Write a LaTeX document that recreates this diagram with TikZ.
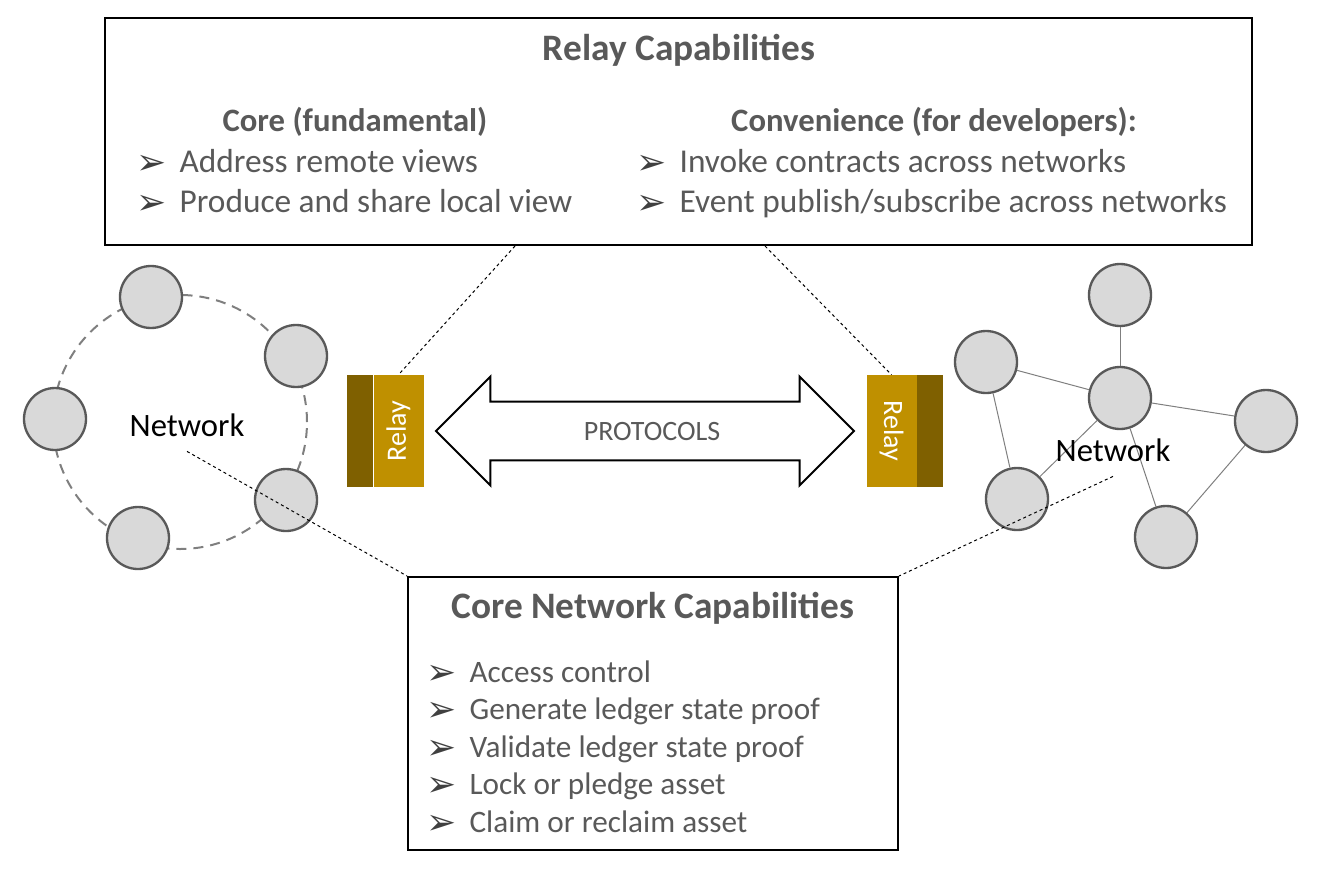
\documentclass[tikz,border=0pt]{standalone}
\usepackage{fontspec}
\setmainfont{Carlito}
\newfontfamily\symfont{DejaVu Sans}
\usepackage{xcolor}
\definecolor{RelayGold}{HTML}{BF9000}
\definecolor{RelayDark}{HTML}{7F6000}
\definecolor{TextGray}{HTML}{595959}
\definecolor{BulletGray}{HTML}{404040}
\definecolor{PeerFill}{HTML}{D9D9D9}
\definecolor{PeerLine}{HTML}{595959}
\definecolor{RingGray}{HTML}{7F7F7F}
\usetikzlibrary{arrows.meta,positioning,shapes.arrows,calc}
\newcommand{\bul}{\makebox[32.5pt][l]{\raisebox{-1.5pt}{\symfont\fontsize{27}{27}\selectfont\textcolor{BulletGray}{➢}}}}

\begin{document}
\begin{tikzpicture}[x=0.75pt, y=-0.75pt, every node/.style={text=TextGray},
    capbox/.style={draw=black, line width=1.5pt, inner sep=0pt},
    title/.style={font=\fontsize{28}{34}\selectfont\bfseries},
    subtitle/.style={font=\fontsize{24.5}{30}\selectfont\bfseries},
    item/.style={font=\fontsize{25}{30}\selectfont, anchor=base west, inner sep=0pt},
    smallitem/.style={font=\fontsize{23.4}{28}\selectfont, anchor=base west, inner sep=0pt},
    relaypart/.style={inner sep=0pt, minimum height=84pt},
    relaytext/.style={text=white, font=\fontsize{21}{25}\selectfont},
    peer/.style={circle, draw=PeerLine, line width=1.75pt, fill=PeerFill, minimum size=46.5pt, inner sep=0pt},
    netlabel/.style={text=black, font=\fontsize{24.5}{30}\selectfont, inner xsep=2pt, inner ysep=11pt},
    peerlink/.style={RingGray, line width=0.75pt},
    zoomline/.style={black, line width=0.75pt, dash pattern=on 2.25pt off 2.25pt}]
    \useasboundingbox (0,0) rectangle (1324,871);

    % relay capabilities
    \node[capbox, minimum width=860.25pt, minimum height=170.25pt] (relaycap) at (678.5,131.5) {};
    \node[title] (relaytitle) at (679,50) {Relay Capabilities};
    \node[subtitle] (coretitle) at (355,122) {Core (fundamental)};
    \node[subtitle] (convtitle) at (934,122) {Convenience (for developers):};
    \node[item] (core1) at (136,172) {\bul Address remote views};
    \node[item] (core2) at (136,212) {\bul Produce and share local view};
    \node[item] (conv1) at (636,172) {\bul Invoke contracts across networks};
    \node[item] (conv2) at (636,212) {\bul Event publish/subscribe across networks};

    % core network capabilities
    \node[capbox, minimum width=367.5pt, minimum height=204.75pt] (netcap) at (653,713.5) {};
    \node[title] (nettitle) at (653,608) {Core Network Capabilities};
    \foreach \txt [count=\i] in {Access control, Generate ledger state proof, Validate ledger state proof, Lock or pledge asset, Claim or reclaim asset}
        \node[smallitem] (netitem\i) at (426,644.5+37.5*\i) {\bul\txt};

    % relays
    \node[relaypart, fill=RelayGold, minimum width=37.5pt] (relayL) at (398.5,431) {};
    \node[relaypart, fill=RelayDark, minimum width=19.5pt, left=0pt of relayL] (relayLback) {};
    \node[relaytext, rotate=90] (relayLtext) at (relayL) {Relay};
    \node[relaypart, fill=RelayGold, minimum width=37.5pt] (relayR) at (891.5,431) {};
    \node[relaypart, fill=RelayDark, minimum width=19.5pt, right=0pt of relayR] (relayRback) {};
    \node[relaytext, rotate=-90] (relayRtext) at (relayR) {Relay};

    \node[double arrow, draw=black, line width=1.5pt, fill=white, double arrow head extend=18.75pt, minimum height=313.5pt, text height=13.5pt, text depth=0pt, inner ysep=14.6pt, font=\fontsize{21}{25}\selectfont] (protocols) at (645,431) {\hspace*{10.5pt}PROTOCOLS};

    % left network
    \draw[RingGray, line width=1.5pt, dash pattern=on 7.5pt off 5.25pt] (180,422) circle[radius=95.25pt];
    \node[peer] (ring1) at (151,297) {};
    \node[peer] (ring2) at (296,356) {};
    \node[peer] (ring3) at (55,419) {};
    \node[peer] (ring4) at (286,500) {};
    \node[peer] (ring5) at (138,538) {};
    \node[netlabel] (netL) at (187,425) {Network};

    % right network
    \node[peer] (hub) at (1120,398) {};
    \node[peer] (mesh1) at (1120,295) {};
    \node[peer] (mesh2) at (986,362) {};
    \node[peer] (mesh3) at (1266,421) {};
    \node[peer] (mesh4) at (1017,499) {};
    \node[peer] (mesh5) at (1166,537) {};
    \draw[peerlink] (hub) -- (mesh1);
    \draw[peerlink] (mesh2) -- (hub);
    \draw[peerlink] (hub) -- (mesh3);
    \draw[peerlink] (mesh2) -- (mesh4);
    \draw[peerlink] (hub) -- (mesh4);
    \draw[peerlink] (hub) -- (mesh5);
    \draw[peerlink] (mesh3) -- (mesh5);
    \node[netlabel] (netR) at (1113,450) {Network};

    % zoom lines
    \draw[zoomline] ($(relaycap.south)+(-163.5,0)$) -- (relayL.north);
    \draw[zoomline] ($(relaycap.south)+(86.5,0)$) -- (relayR.north);
    \draw[zoomline] (netL.south) -- (netcap.north west);
    \draw[zoomline] (netR.south) -- (netcap.north east);
\end{tikzpicture}
\end{document}
